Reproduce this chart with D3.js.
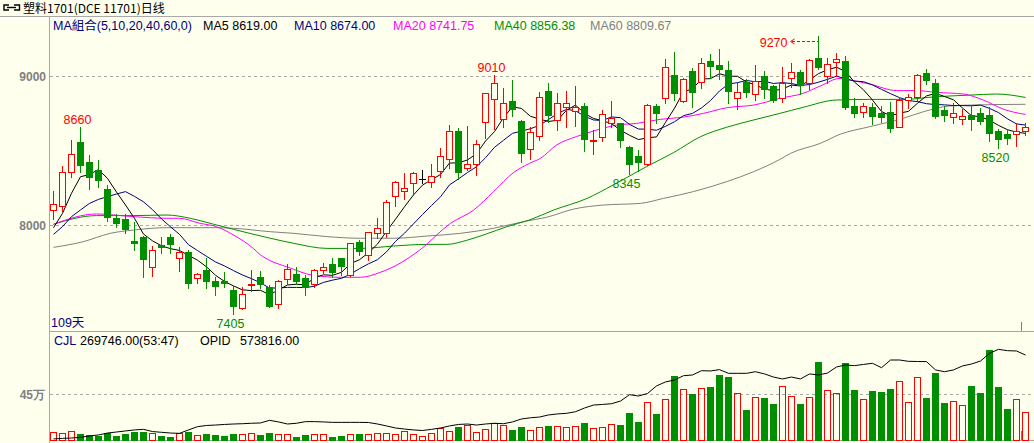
<!DOCTYPE html>
<html><head><meta charset="utf-8">
<script src="https://cdn.jsdelivr.net/npm/d3@7"></script>
<style>
html,body{margin:0;padding:0;background:#FFFFEE;overflow:hidden;}
svg{display:block;}
text{font-family:"Liberation Sans",Arial,sans-serif;}
</style></head><body>
<svg id="c" width="1034" height="443"></svg>
<script>
// ---------- DATA ----------
const opens = [8098,8130,8353,8557,8423,8369,8242,8049,8040,7893,
7920,7716,7868,7920,7776,7819,7642,7698,7624,7626,
7564,7441,7597,7649,7582,7470,7640,7669,7642,7602,
7700,7736,7776,7665,7884,7799,7944,7944,8192,8226,
8280,8309,8286,8365,8441,8631,8380,8407,8689,8843,
8709,8832,8698,8508,8600,8899,8705,8794,8767,8799,
8562,8593,8682,8682,8526,8463,8407,8799,8850,9007,
8834,9034,8958,9101,9074,9040,8850,8962,8877,9000,
8933,8855,8984,9025,8951,9119,9002,9092,9101,8799,
8756,8790,8749,8756,8660,8839,8861,9018,8951,8772,
8727,8709,8738,8749,8738,8631,8609,8609,8633];
const highs = [8228,8396,8570,8660,8470,8436,8266,8074,8074,8022,
7926,7859,7917,7940,7850,7832,7676,7776,7649,7682,
7591,7586,7698,7691,7595,7631,7738,7716,7664,7705,
7743,7776,7776,7880,7899,7951,8045,8168,8298,8347,
8354,8369,8409,8517,8671,8649,8664,8570,8888,9010,
8917,8973,8705,8660,8895,8955,8888,8902,8933,8821,
8638,8772,8834,8687,8530,8503,8812,8812,9112,9159,
8984,9051,9119,9148,9181,9101,8962,8978,9074,9036,
8940,9058,9085,9040,9112,9270,9119,9152,9134,8850,
8821,8821,8799,8823,8850,8877,9011,9047,8978,8799,
8817,8779,8799,8783,8794,8644,8642,8682,8682];
const lows = [8040,8094,8324,8356,8244,8257,8029,7989,7944,7832,
7653,7660,7810,7810,7694,7580,7609,7580,7533,7582,
7405,7434,7560,7575,7452,7441,7604,7602,7530,7582,
7676,7653,7665,7660,7799,7765,7910,7917,8130,8175,
8201,8280,8257,8320,8385,8309,8369,8336,8586,8642,
8660,8732,8425,8443,8570,8694,8638,8660,8664,8499,
8477,8564,8660,8526,8345,8365,8403,8682,8821,8839,
8828,8794,8922,8984,8978,8821,8776,8861,8839,8850,
8828,8828,8928,8879,8913,9045,8955,9002,8779,8723,
8723,8678,8694,8626,8656,8787,8832,8946,8716,8698,
8687,8678,8638,8678,8566,8520,8544,8532,8604];
const closes = [8139,8353,8474,8405,8324,8304,8056,8016,7971,7877,
7774,7830,7850,7875,7817,7609,7669,7626,7593,7609,
7459,7537,7602,7602,7459,7622,7703,7626,7584,7698,
7716,7687,7727,7877,7828,7951,7978,8152,8286,8246,
8347,8309,8331,8461,8631,8353,8407,8541,8884,8951,
8817,8776,8481,8622,8857,8738,8817,8817,8794,8577,
8570,8743,8720,8570,8409,8425,8803,8749,9058,8884,
8978,8895,9085,9069,9047,8899,8890,8895,8969,8911,
8839,8951,9025,8940,9107,9058,9078,9112,8794,8754,
8799,8734,8727,8653,8839,8861,9007,8973,8734,8738,
8749,8732,8714,8700,8620,8577,8586,8633,8660];
const volumes = [81000,65000,85000,59000,49000,36000,65000,39000,59000,75000,
78000,65000,39000,29000,65000,75000,46000,59000,46000,36000,
55000,55000,65000,46000,65000,55000,55000,26000,46000,55000,
55000,29000,39000,55000,59000,55000,65000,65000,55000,85000,
55000,39000,65000,121000,88000,127000,147000,75000,107000,163000,
147000,98000,127000,95000,127000,140000,140000,127000,140000,169000,
117000,127000,160000,150000,264000,179000,369000,254000,399000,626000,
496000,450000,509000,519000,636000,616000,457000,293000,421000,411000,
352000,525000,431000,352000,421000,763000,486000,457000,753000,489000,
399000,479000,470000,499000,574000,369000,613000,411000,655000,362000,
378000,339000,528000,460000,880000,519000,303000,399000,269746];
const openInterest = [7000,11000,13500,18000,27000,34000,47000,54000,61000,68000,
72000,57000,52000,47000,45000,68000,90000,98000,101000,105000,
108000,110000,113000,115000,133000,122000,108000,113000,124000,124000,
122000,119000,119000,119000,119000,118000,108000,95000,81000,74000,
68000,64000,72000,81000,95000,105000,108000,101000,108000,113000,
110000,122000,142000,150000,155000,169000,176000,180000,191000,216000,
236000,240000,245000,263000,306000,297000,314000,365000,392000,405000,
434000,439000,468000,466000,475000,450000,450000,450000,461000,446000,
425000,412000,425000,412000,446000,439000,452000,493000,506000,502000,
510000,518000,488000,540000,540000,531000,530000,529000,473000,461000,
473000,500000,513000,533000,585000,612000,603000,601000,573816];

// moving averages: first values (before enough closes are visible)
const ma5Head = [7982,8078,8213,8324];
const ma10Head = [7937,7989,8056,8101,8145,8172,8190,8208,8224];
// longer averages at sample positions
const ma20Idx = [0,4.8,8.9,12.6,14,16.3,18.1,20,22.2,23,24,25.9,28.9,31.9,34.1,36.3,38.5,40.7,44.1,46.7,48.9,51.1,52.9,54.1,55.9,58.1,60.4,62.6,64.8,67.4,69.9,72.2,74.8,77.8,80.7,83.3,85.2,87.4,88.5,90.7,93.7,95.9,98.1,101.1,103.3,105.6,108];
const ma20Val = [8005,8074,8056,8045,8045,8011,7989,7933,7843,7799,7763,7720,7662,7649,7649,7682,7743,7832,8011,8101,8224,8351,8414,8447,8537,8593,8638,8671,8682,8709,8723,8749,8787,8805,8850,8884,8933,8984,8973,8946,8902,8902,8890,8879,8839,8776,8742];
const ma40Idx = [0,4.8,8.9,12.6,15.2,17.8,20,24.1,26.7,30.4,34.1,37.8,41.5,43.7,46,48.1,50.4,52.9,55.6,59.3,62.2,65.9,68.9,71.9,74.8,77.8,80.7,83.3,87,90.7,94.4,98.1,101.9,104.8,108];
const ma40Val = [8005,8063,8063,8067,8045,8005,7971,7911,7877,7843,7843,7859,7870,7870,7899,7940,7989,8034,8101,8179,8269,8392,8486,8593,8656,8705,8749,8790,8839,8843,8843,8861,8872,8879,8856];
const ma60Idx = [0,3.3,6.3,8.9,12.6,17.8,20,24.1,26.7,30.4,34.1,37.8,41.5,45.2,48.9,52.4,54.8,57.8,61.1,65.2,67.8,71.1,74.8,77.8,80.7,81.9,85.2,87.4,90.7,94.4,96.7,99.6,101.9,108];
const ma60Val = [7850,7888,7944,7966,7982,7982,7978,7955,7944,7922,7911,7911,7926,7944,7978,8025,8052,8107,8134,8145,8179,8224,8291,8358,8440,8481,8548,8609,8660,8716,8761,8799,8805,8810];

const priceTicks = [8000, 9000];
const volTicks = [450000];
const volTickLabels = ["45万"];
// marked highs/lows
const markIdx = [3, 20, 49, 64, 85, 105];
const markVal = [8660, 7405, 9010, 8345, 9270, 8520];
const markHigh = [true, false, true, false, true, false];

const title = "塑料1701(DCE 11701)日线";
const maLegend = [
  {t:"MA組合(5,10,20,40,60,0)", c:"#000080", x:53},
  {t:"MA5 8619.00", c:"#000000", x:203},
  {t:"MA10 8674.00", c:"#000080", x:294},
  {t:"MA20 8741.75", c:"#FF00FF", x:393},
  {t:"MA40 8856.38", c:"#008F00", x:494},
  {t:"MA60 8809.67", c:"#808080", x:590}
];

// ---------- DRAW ----------
const BG = "#FFFFEE", RED = "#FF0000", GREEN = "#008F00", FRAME = "#A8A8A8";
const svg = d3.select("#c");
svg.append("rect").attr("width",1034).attr("height",443).attr("fill",BG);

const n = closes.length;
const x = d3.scaleLinear().domain([0, n-1]).range([53.5, 53.5 + 9*(n-1)]);
const y = d3.scaleLinear().domain([8000, 9000]).range([225, 76]);
const yv = d3.scaleLinear().domain([0, 450000]).range([440, 394]);
const yo = d3.scaleLinear().domain([0, 573816]).range([440, 355]);
const py = v => Math.round(y(v));

// frame
const g0 = svg.append("g").attr("shape-rendering","crispEdges");
g0.append("line").attr("x1",0).attr("x2",1034).attr("y1",16.5).attr("y2",16.5).attr("stroke",FRAME);
g0.append("line").attr("x1",49.5).attr("x2",49.5).attr("y1",17).attr("y2",443).attr("stroke",FRAME);
g0.append("line").attr("x1",49.5).attr("x2",1034).attr("y1",331.5).attr("y2",331.5).attr("stroke",FRAME);
g0.append("line").attr("x1",49.5).attr("x2",1034).attr("y1",440.5).attr("y2",440.5).attr("stroke",FRAME);
g0.append("line").attr("x1",1021.5).attr("x2",1021.5).attr("y1",322).attr("y2",331).attr("stroke","#808080");
g0.append("line").attr("x1",1021.5).attr("x2",1021.5).attr("y1",431).attr("y2",440).attr("stroke","#808080");

// grid
priceTicks.forEach(t => {
  g0.append("line").attr("x1",50).attr("x2",1034).attr("y1",py(t)+0.5).attr("y2",py(t)+0.5)
    .attr("stroke","#A8A8A8").attr("stroke-dasharray","3,3");
  svg.append("text").attr("x",46).attr("y",py(t)+5).attr("text-anchor","end")
    .attr("font-size",12).attr("font-weight","bold").attr("fill","#808080").text(d3.format("d")(t));
});
volTicks.forEach((t,k) => {
  const yy = Math.round(yv(t));
  g0.append("line").attr("x1",50).attr("x2",1034).attr("y1",yy+0.5).attr("y2",yy+0.5)
    .attr("stroke","#A8A8A8").attr("stroke-dasharray","3,3");
  svg.append("text").attr("x",45).attr("y",yy+5).attr("text-anchor","end")
    .attr("font-size",12).attr("font-weight","bold").attr("fill","#808080").text(volTickLabels[k]);
});

// header
const icon = svg.append("g").attr("fill","none").attr("stroke","#000").attr("stroke-width",1.4);
icon.append("path").attr("d","M9,5 H4 V10 H9");
icon.append("path").attr("d","M7,7.5 H16");
icon.append("path").attr("d","M14,5 H19.5 V10 H14");
svg.append("text").attr("x",23).attr("y",13).attr("font-size",12)
  .style("font-family",'"Noto Sans CJK SC",sans-serif').attr("fill","#000").text(title);

maLegend.forEach(d => {
  svg.append("text").attr("x",d.x).attr("y",30).attr("font-size",12.5).attr("fill",d.c)
    .style("font-family",'"Liberation Sans","Noto Sans CJK TC",sans-serif').text(d.t);
});
svg.append("text").attr("x",51).attr("y",327).attr("font-size",12.5).attr("fill","#000080")
  .style("font-family",'"Liberation Sans","Noto Sans CJK SC",sans-serif').text(n + "天");

// MAs
function movingAvg(len, head){
  return closes.map((c,i) => i < len-1 ? head[i] : d3.mean(closes.slice(i-len+1, i+1)));
}
const ma5 = movingAvg(5, ma5Head);
const ma10 = movingAvg(10, ma10Head);
const lineFull = d3.line().x((d,i)=>x(i)).y(d=>y(d));
const lineSparse = (idx) => d3.line().x((d,k)=>x(idx[k])).y(d=>y(d)).curve(d3.curveMonotoneX);

const gl = svg.append("g").attr("fill","none").attr("stroke-width",1);
gl.append("path").attr("d", lineSparse(ma60Idx)(ma60Val)).attr("stroke","#808080");
gl.append("path").attr("d", lineSparse(ma40Idx)(ma40Val)).attr("stroke",GREEN);
gl.append("path").attr("d", lineSparse(ma20Idx)(ma20Val)).attr("stroke","#FF00FF");
gl.append("path").attr("d", lineFull(ma10)).attr("stroke","#000080");
gl.append("path").attr("d", lineFull(ma5)).attr("stroke","#000000");

// candles
const gc = svg.append("g").attr("shape-rendering","crispEdges");
closes.forEach((c,i) => {
  const o = opens[i], h = highs[i], l = lows[i];
  const cx = x(i);
  const yh = py(h), yl = py(l), yo_ = py(o), yc = py(c);
  if (c > o) {
    gc.append("line").attr("x1",cx).attr("x2",cx).attr("y1",yh).attr("y2",yc).attr("stroke",RED);
    gc.append("line").attr("x1",cx).attr("x2",cx).attr("y1",yo_).attr("y2",yl+1).attr("stroke",RED);
    gc.append("rect").attr("x",cx-3).attr("y",yc+0.5).attr("width",6).attr("height",Math.max(1,yo_-yc))
      .attr("fill",BG).attr("stroke",RED);
  } else if (c < o) {
    gc.append("line").attr("x1",cx).attr("x2",cx).attr("y1",yh).attr("y2",yl+1).attr("stroke",GREEN);
    gc.append("rect").attr("x",cx-3.5).attr("y",yo_).attr("width",7).attr("height",Math.max(1,yc-yo_+1))
      .attr("fill",GREEN);
  } else {
    gc.append("line").attr("x1",cx).attr("x2",cx).attr("y1",yh).attr("y2",yl+1).attr("stroke","#000");
    gc.append("line").attr("x1",cx-3.5).attr("x2",cx+3.5).attr("y1",yc+0.5).attr("y2",yc+0.5).attr("stroke","#000");
  }
});

// marks
markIdx.forEach((i,k) => {
  const v = markVal[k], hi = markHigh[k];
  const col = hi ? RED : GREEN;
  if (i === 85) {
    const ay = py(v) + 5.5;
    svg.append("text").attr("x",x(i)-31).attr("y",py(v)+11).attr("text-anchor","end")
      .attr("font-size",12.5).attr("fill",col).text(v);
    svg.append("line").attr("x1",x(i)-27).attr("x2",x(i)-1).attr("y1",ay).attr("y2",ay)
      .attr("stroke",col).attr("stroke-dasharray","3,2").attr("shape-rendering","crispEdges");
    svg.append("path").attr("d",`M${x(i)-24},${ay-2.5} L${x(i)-28},${ay} L${x(i)-24},${ay+2.5}`)
      .attr("fill","none").attr("stroke",col);
  } else {
    svg.append("text").attr("x",x(i)-3).attr("y", hi ? py(v)-3 : py(v)+14).attr("text-anchor","middle")
      .attr("font-size",12.5).attr("fill",col).text(v);
  }
});

// volume panel
svg.append("text").attr("x",54).attr("y",345).attr("font-size",12.5).attr("fill","#000080").text("CJL");
svg.append("text").attr("x",80).attr("y",345).attr("font-size",12.5).attr("fill","#000")
  .text(d3.format(".2f")(volumes[n-1]) + "(53:47)");
svg.append("text").attr("x",200).attr("y",345).attr("font-size",12.5).attr("fill","#000").text("OPID");
svg.append("text").attr("x",240).attr("y",345).attr("font-size",12.5).attr("fill","#000")
  .text(d3.format(".2f")(openInterest[n-1]));

const gv = svg.append("g").attr("shape-rendering","crispEdges");
volumes.forEach((v,i) => {
  const cx = x(i);
  const top = Math.round(yv(v));
  if (closes[i] >= opens[i]) {
    gv.append("rect").attr("x",cx-3).attr("y",top+0.5).attr("width",6).attr("height",440-top)
      .attr("fill","none").attr("stroke",RED);
  } else {
    gv.append("rect").attr("x",cx-3.5).attr("y",top).attr("width",7).attr("height",441-top).attr("fill",GREEN);
  }
});
svg.append("path").attr("d", d3.line().x((d,i)=>x(i)).y(d=>yo(d))(openInterest))
  .attr("fill","none").attr("stroke","#000").attr("stroke-width",1);
</script>
</body></html>
